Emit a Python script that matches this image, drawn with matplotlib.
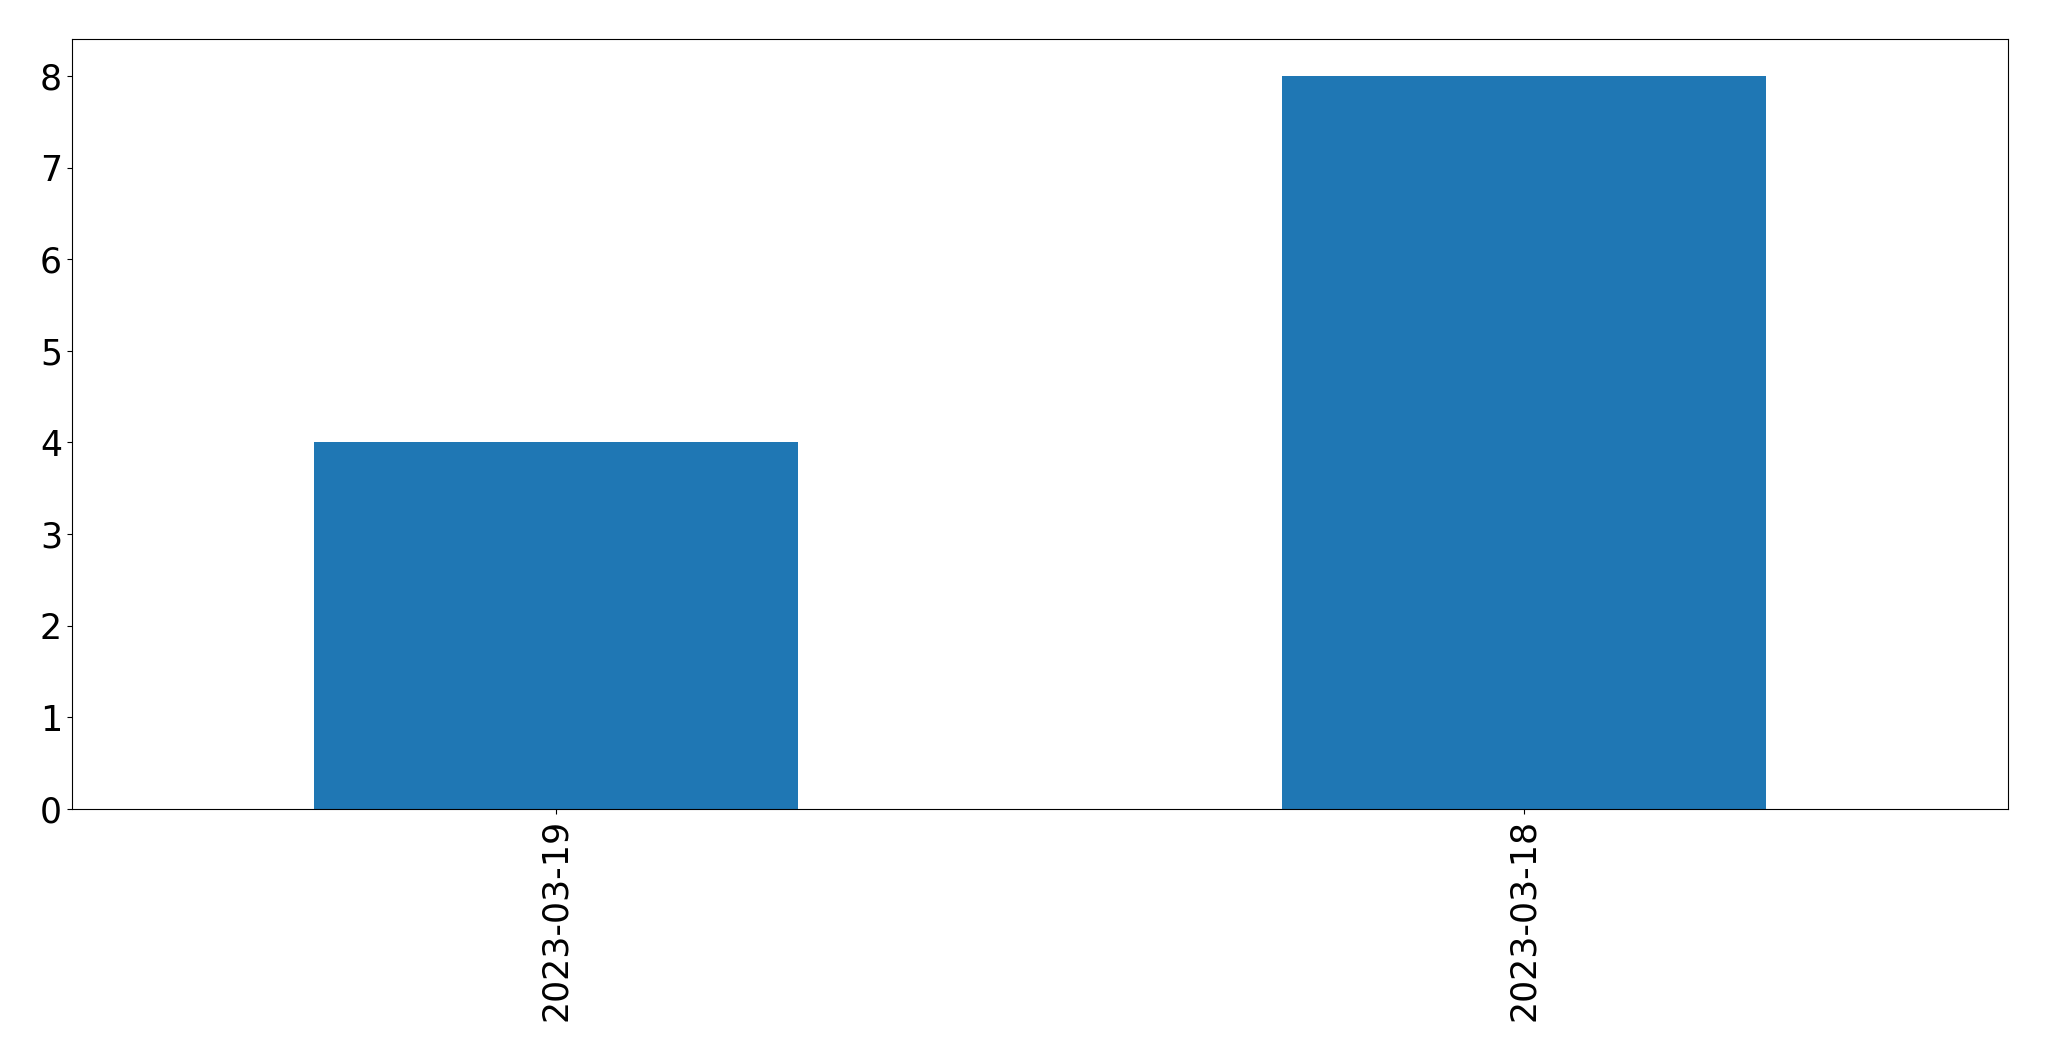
import pandas as pd
import matplotlib
matplotlib.use("Agg")
import matplotlib.pyplot as plt

dates = ["2023-03-19", "2023-03-18"]
counts = [4, 8]

s = pd.Series(counts, index=dates)

fig, ax = plt.subplots(figsize=(20.49, 10.61), dpi=100)
s.plot(kind="bar", ax=ax, color="#1f77b4")
ax.tick_params(axis="both", labelsize=25)
fig.subplots_adjust(left=0.035, right=0.980, top=0.963, bottom=0.2375)
fig.savefig("out.png", dpi=100)
